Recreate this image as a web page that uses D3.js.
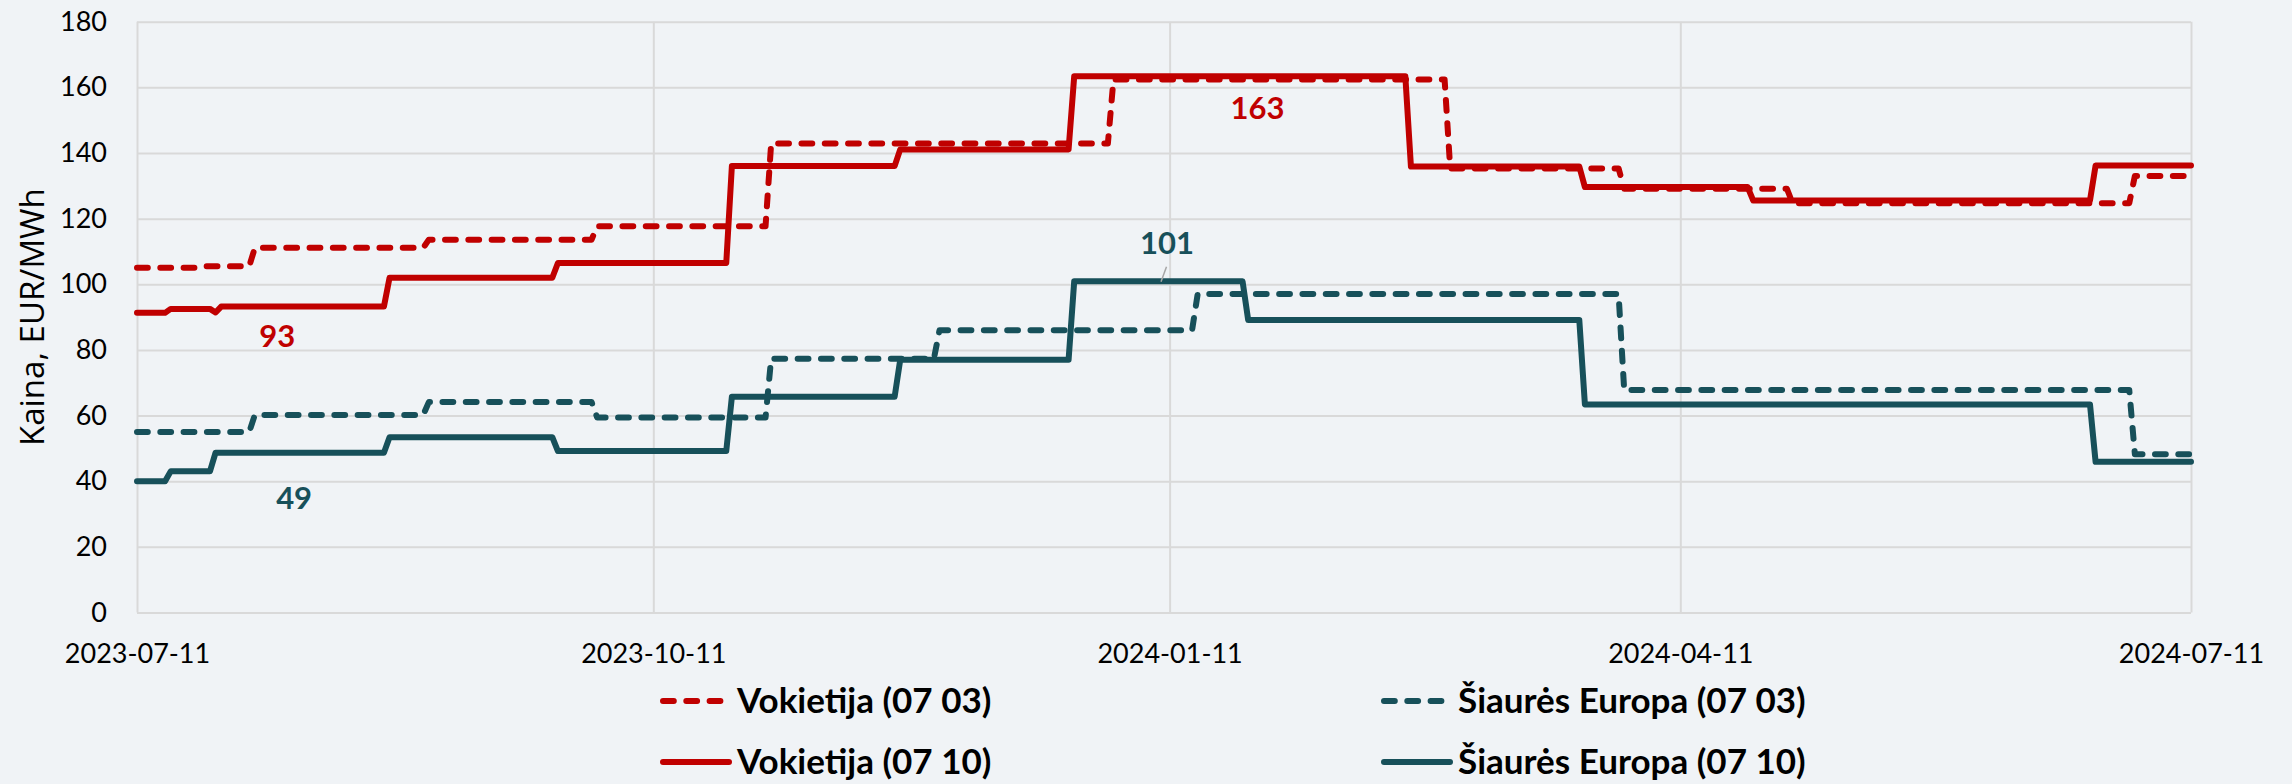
<!DOCTYPE html>
<html><head><meta charset="utf-8">
<script src="https://cdn.jsdelivr.net/npm/d3@7"></script>
<style>html,body{margin:0;padding:0;background:#F0F3F6;} svg{display:block}</style>
</head><body>
<svg id="c" width="2292" height="784"></svg>
<script>
// ---- data ----
const tickDates = ["2023-07-11","2023-10-11","2024-01-11","2024-04-11","2024-07-11"];
const yTicks = [0,20,40,60,80,100,120,140,160,180];

const deDashedDates = ["2023-07-11","2023-07-22","2023-07-23","2023-07-31","2023-08-01","2023-08-31","2023-09-01","2023-09-30","2023-10-01","2023-10-31","2023-11-01","2023-12-31","2024-01-01","2024-02-29","2024-03-01","2024-03-31","2024-04-01","2024-04-30","2024-05-01","2024-06-30","2024-07-01","2024-07-11"];
const deDashedValues = [105.0,105.0,105.5,105.5,111.1,111.1,113.6,113.6,117.7,117.7,142.9,142.9,162.4,162.4,135.3,135.3,129.1,129.1,124.7,124.7,133.0,133.0];

const nordDashedDates = ["2023-07-11","2023-07-31","2023-08-01","2023-08-31","2023-09-01","2023-09-30","2023-10-01","2023-10-31","2023-11-01","2023-11-30","2023-12-01","2024-01-15","2024-01-16","2024-03-31","2024-04-01","2024-06-30","2024-07-01","2024-07-11"];
const nordDashedValues = [55.0,55.0,60.2,60.2,64.1,64.1,59.4,59.4,77.3,77.3,86.0,86.0,97.0,97.0,67.8,67.8,48.2,48.2];

const deSolidDates = ["2023-07-11","2023-07-16","2023-07-17","2023-07-24","2023-07-25","2023-07-26","2023-08-24","2023-08-25","2023-09-23","2023-09-24","2023-10-24","2023-10-25","2023-11-23","2023-11-24","2023-12-24","2023-12-25","2024-02-22","2024-02-23","2024-03-24","2024-03-25","2024-04-23","2024-04-24","2024-06-23","2024-06-24","2024-07-11"];
const deSolidValues = [91.3,91.3,92.5,92.5,91.4,93.2,93.2,102.0,102.0,106.5,106.5,136.0,136.0,141.1,141.1,163.4,163.4,135.9,135.9,129.6,129.6,125.5,125.5,136.2,136.2];

const nordSolidDates = ["2023-07-11","2023-07-16","2023-07-17","2023-07-24","2023-07-25","2023-08-24","2023-08-25","2023-09-23","2023-09-24","2023-10-24","2023-10-25","2023-11-23","2023-11-24","2023-12-24","2023-12-25","2024-01-24","2024-01-25","2024-03-24","2024-03-25","2024-06-23","2024-06-24","2024-07-11"];
const nordSolidValues = [40.0,40.0,43.0,43.0,48.7,48.7,53.4,53.4,49.2,49.2,65.7,65.7,77.0,77.0,100.9,100.9,89.1,89.1,63.4,63.4,45.9,45.9];

const seriesNames = ["Vokietija (07 03)","Šiaurės Europa (07 03)","Vokietija (07 10)","Šiaurės Europa (07 10)"];

const labelTexts = ["93","49","163","101"];
const labelDates = ["2023-08-05","2023-08-08","2024-01-27","2024-01-10"];
const labelValues = [93.2,48.7,163.4,100.9];

// ---- styles ----
const RED = "#C00000", TEAL = "#17505A";
const seriesStyle = [
  {color:RED, dash:true}, {color:TEAL, dash:true},
  {color:RED, dash:false}, {color:TEAL, dash:false}
];
const labelColor = [RED, TEAL, RED, TEAL];
const labelOffset = [[0,29],[0,45],[-2,31],[3,-39]];
const DASH = "10.8 12.5";
const SW = 6;

const svg = d3.select("#c");
const W = 2292, H = 784;
const m = {left:137, right:2191, top:21.7, bottom:612.5};
const parse = d3.utcParse("%Y-%m-%d");

svg.append("rect").attr("width",W).attr("height",H).attr("fill","#F0F3F6");

const x = d3.scaleUtc()
  .domain([parse(tickDates[0]), parse(tickDates[tickDates.length-1])])
  .range([m.left, m.right]);
const y = d3.scaleLinear().domain([0,180]).range([m.bottom, m.top]);

// y axis + horizontal grid
const gy = svg.append("g").attr("transform",`translate(${m.left},0)`)
  .call(d3.axisLeft(y).tickValues(yTicks).tickSize(-(m.right-m.left)).tickPadding(30));
gy.select(".domain").remove();
gy.selectAll(".tick line").attr("stroke","#D9D9D9").attr("stroke-width",2);
gy.selectAll(".tick text").attr("font-family","Lato, 'Open Sans', sans-serif")
  .attr("font-size",27).attr("fill","#000");

// x axis + vertical grid
const gx = svg.append("g").attr("transform",`translate(0,${m.bottom})`)
  .call(d3.axisBottom(x).tickValues(tickDates.map(parse))
    .tickFormat(d3.utcFormat("%Y-%m-%d"))
    .tickSize(-(m.bottom-m.top)).tickPadding(31));
gx.select(".domain").remove();
gx.selectAll(".tick line").attr("stroke","#D9D9D9").attr("stroke-width",2);
gx.selectAll(".tick text").attr("font-family","Lato, 'Open Sans', sans-serif")
  .attr("font-size",27).attr("fill","#000");

// y axis title
svg.append("text")
  .attr("transform",`translate(43.5,${(m.top+m.bottom)/2}) rotate(-90)`)
  .attr("text-anchor","middle")
  .attr("font-family","'Open Sans', sans-serif").attr("font-size",33).attr("fill","#000")
  .text("Kaina, EUR/MWh");

// series
const seriesData = [
  d3.zip(deDashedDates, deDashedValues),
  d3.zip(nordDashedDates, nordDashedValues),
  d3.zip(deSolidDates, deSolidValues),
  d3.zip(nordSolidDates, nordSolidValues)
];
const line = d3.line().x(d => x(parse(d[0]))).y(d => y(d[1]));
seriesData.forEach((data, i) => {
  const s = seriesStyle[i];
  svg.append("path").datum(data)
    .attr("d", line)
    .attr("fill","none")
    .attr("stroke", s.color)
    .attr("stroke-width", SW)
    .attr("stroke-linejoin","round")
    .attr("stroke-linecap","round")
    .attr("stroke-dasharray", s.dash ? DASH : null);
});

// data labels
labelTexts.forEach((t, i) => {
  const px = x(parse(labelDates[i])), py = y(labelValues[i]);
  const [dx, dy] = labelOffset[i];
  if (i === 3) {
    svg.append("line")
      .attr("x1", px - 3).attr("y1", py + 0.5)
      .attr("x2", px + 2.5).attr("y2", py - 14.5)
      .attr("stroke","#A6A6A6").attr("stroke-width",1.5);
  }
  svg.append("text")
    .attr("x", px + dx).attr("y", py + dy + 11.5)
    .attr("text-anchor","middle")
    .attr("font-family","Lato, sans-serif").attr("font-weight","bold")
    .attr("font-size",31).attr("fill", labelColor[i])
    .text(t);
});

// legend
const colX = [663, 1384], rowY = [701, 762];
seriesNames.forEach((name, i) => {
  const cx = colX[i % 2], cy = rowY[Math.floor(i / 2)];
  const s = seriesStyle[i];
  svg.append("line")
    .attr("x1", cx).attr("x2", cx + 66).attr("y1", cy).attr("y2", cy)
    .attr("stroke", s.color).attr("stroke-width", SW)
    .attr("stroke-linecap","round")
    .attr("stroke-dasharray", s.dash ? DASH : null);
  svg.append("text")
    .attr("x", cx + 74).attr("y", cy + 12)
    .attr("font-family","Lato, sans-serif").attr("font-weight","bold")
    .attr("font-size",35).attr("fill","#000")
    .text(name);
});
</script>
</body></html>
